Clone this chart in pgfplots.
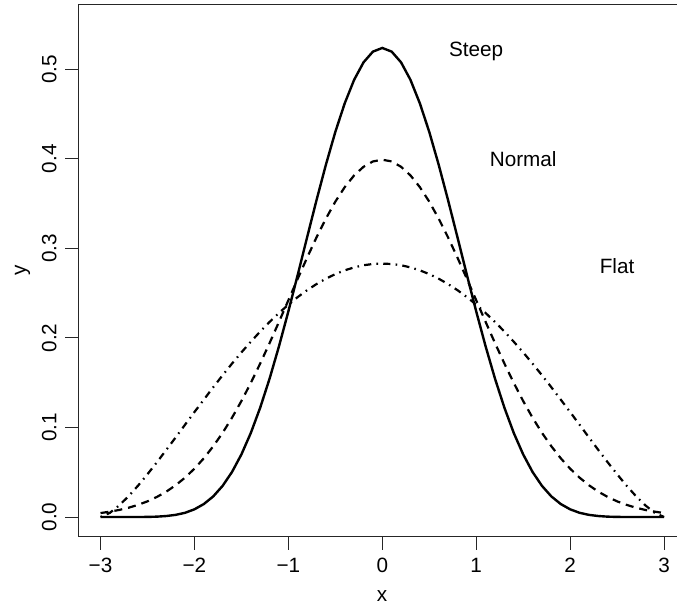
\documentclass[border=0pt]{standalone}
\usepackage{pgfplots}
\pgfplotsset{compat=1.18}
\usepackage{pgfplotstable}
\usepackage{fontspec}
\setmainfont{Liberation Sans}
\newcommand{\rfont}{\fontsize{10.35pt}{12pt}\selectfont}

\pgfplotstableread{
x steep normal flat
-3.0 0.0000 0.0044 0.0000
-2.9 0.0000 0.0060 0.0047
-2.8 0.0000 0.0079 0.0131
-2.7 0.0000 0.0104 0.0234
-2.6 0.0000 0.0136 0.0351
-2.5 0.0001 0.0175 0.0478
-2.4 0.0004 0.0224 0.0611
-2.3 0.0011 0.0283 0.0749
-2.2 0.0024 0.0355 0.0889
-2.1 0.0047 0.0440 0.1031
-2.0 0.0086 0.0540 0.1172
-1.9 0.0145 0.0656 0.1311
-1.8 0.0230 0.0790 0.1449
-1.7 0.0348 0.0940 0.1583
-1.6 0.0503 0.1109 0.1713
-1.5 0.0699 0.1295 0.1838
-1.4 0.0938 0.1497 0.1957
-1.3 0.1221 0.1714 0.2071
-1.2 0.1545 0.1942 0.2178
-1.1 0.1906 0.2179 0.2278
-1.0 0.2296 0.2420 0.2371
-0.9 0.2706 0.2661 0.2456
-0.8 0.3125 0.2897 0.2533
-0.7 0.3539 0.3123 0.2601
-0.6 0.3935 0.3332 0.2661
-0.5 0.4300 0.3521 0.2712
-0.4 0.4619 0.3683 0.2754
-0.3 0.4881 0.3814 0.2787
-0.2 0.5076 0.3910 0.2811
-0.1 0.5196 0.3970 0.2825
0.0 0.5237 0.3989 0.2829
0.1 0.5196 0.3970 0.2825
0.2 0.5076 0.3910 0.2811
0.3 0.4881 0.3814 0.2787
0.4 0.4619 0.3683 0.2754
0.5 0.4300 0.3521 0.2712
0.6 0.3935 0.3332 0.2661
0.7 0.3539 0.3123 0.2601
0.8 0.3125 0.2897 0.2533
0.9 0.2706 0.2661 0.2456
1.0 0.2296 0.2420 0.2371
1.1 0.1906 0.2179 0.2278
1.2 0.1545 0.1942 0.2178
1.3 0.1221 0.1714 0.2071
1.4 0.0938 0.1497 0.1957
1.5 0.0699 0.1295 0.1838
1.6 0.0503 0.1109 0.1713
1.7 0.0348 0.0940 0.1583
1.8 0.0230 0.0790 0.1449
1.9 0.0145 0.0656 0.1311
2.0 0.0086 0.0540 0.1172
2.1 0.0047 0.0440 0.1031
2.2 0.0024 0.0355 0.0889
2.3 0.0011 0.0283 0.0749
2.4 0.0004 0.0224 0.0611
2.5 0.0001 0.0175 0.0478
2.6 0.0000 0.0136 0.0351
2.7 0.0000 0.0104 0.0234
2.8 0.0000 0.0079 0.0131
2.9 0.0000 0.0060 0.0047
3.0 0.0000 0.0044 0.0000
}\curves

\begin{document}
\begin{tikzpicture}
\begin{axis}[
  scale only axis,
  width=299.5pt, height=266pt,
  xmin=-3.24, xmax=3.138,
  ymin=-0.022, ymax=0.572,
  axis y line*=left,
  axis line style={line width=0.5pt, black!85},
  xtick={-3,-2,-1,0,1,2,3},
  xticklabels={−3,−2,−1,0,1,2,3},
  ytick={0,0.1,0.2,0.3,0.4,0.5},
  yticklabels={0.0,0.1,0.2,0.3,0.4,0.5},
  xtick pos=lower,
  ytick pos=left,
  tick align=outside,
  major tick length=6.5pt,
  tick style={line width=0.5pt, black!85},
  tick label style={font=\rfont, inner sep=0pt},
  xticklabel style={anchor=north},
  xticklabel shift=4pt,
  yticklabel style={rotate=90, anchor=south},
  yticklabel shift=4pt,
  xlabel={x}, ylabel={y},
  label style={font=\rfont, inner sep=0pt},
  xlabel style={at={(axis description cs:0.5075,0)}, anchor=base, yshift=-32.6pt},
  ylabel style={at={(axis description cs:0,0.5)}, anchor=base, yshift=26pt},
  no markers,
  clip=true,
]
\addplot[black, line width=1.2pt] table[x=x, y=steep] {\curves};
\addplot[black, line width=1.1pt, dash pattern=on 4pt off 3pt] table[x=x, y=normal] {\curves};
\addplot[black, line width=1.1pt, dash pattern=on 0.8pt off 2.6pt on 3.6pt off 2.6pt] table[x=x, y=flat] {\curves};
\node[font=\rfont] at (axis cs:1,0.52) {Steep};
\node[font=\rfont] at (axis cs:1.5,0.4) {Normal};
\node[font=\rfont] at (axis cs:2.5,0.28) {Flat};
\coordinate (bl) at (rel axis cs:0,0);
\coordinate (tr) at (rel axis cs:1,1);
\end{axis}
\pgfresetboundingbox
\useasboundingbox ([shift={(-39pt,-34.65pt)}]bl) rectangle ([shift={(0pt,2.35pt)}]tr);
\end{tikzpicture}
\end{document}
